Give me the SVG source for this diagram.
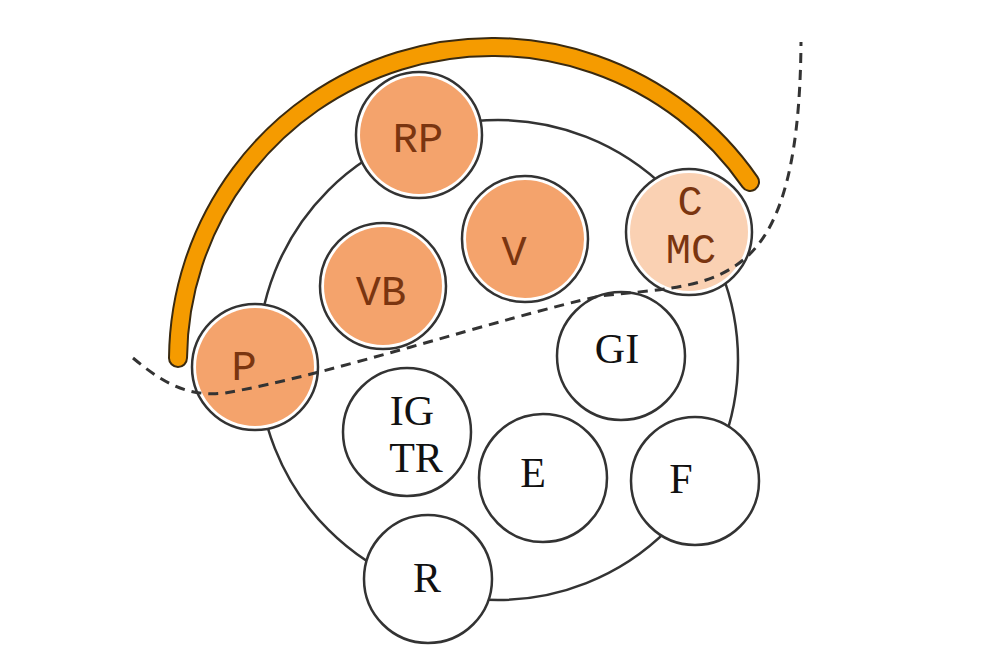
<svg xmlns="http://www.w3.org/2000/svg" width="1000" height="667" viewBox="0 0 1000 667">
<style>
.ring{fill:none;stroke:#333;stroke-width:2.5}
.w{fill:#fff;stroke:#333;stroke-width:2.5}
.o{fill:#F4A36C}
.lo{fill:#FAD1B3}
.tm{font-family:'Courier New','Liberation Mono',monospace;font-size:42px;fill:#7A3510;text-anchor:middle}
.ts{font-family:'Liberation Serif','Times New Roman',serif;font-size:42px;fill:#111;text-anchor:middle}
</style>
<rect width="1000" height="667" fill="#fff"/>
<circle id="outer-ring" class="ring" cx="498" cy="360" r="240"/>
<g id="RP"><circle class="w" cx="419" cy="135" r="63"/><circle class="o" cx="419" cy="135" r="59"/><text class="tm" x="418" y="152">RP</text></g>
<g id="V"><circle class="w" cx="525" cy="239" r="63"/><circle class="o" cx="525" cy="239" r="59"/><text class="tm" x="514" y="265">V</text></g>
<g id="CMC"><circle class="w" cx="689" cy="232" r="63"/><circle class="lo" cx="689" cy="232" r="59"/><text class="tm" x="690" y="215">C</text><text class="tm" x="691" y="263">MC</text></g>
<g id="VB"><circle class="w" cx="383" cy="286" r="63"/><circle class="o" cx="383" cy="286" r="59"/><text class="tm" x="381" y="305">VB</text></g>
<g id="P"><circle class="w" cx="255" cy="367" r="63"/><circle class="o" cx="255" cy="367" r="59"/><text class="tm" x="244" y="380">P</text></g>
<g id="GI"><circle class="w" cx="621" cy="356" r="64"/><text class="ts" x="617" y="363">GI</text></g>
<g id="IGTR"><circle class="w" cx="407" cy="432" r="64"/><text class="ts" x="412" y="425">IG</text><text class="ts" x="416" y="472">TR</text></g>
<g id="E"><circle class="w" cx="543" cy="478" r="64"/><text class="ts" x="533" y="487">E</text></g>
<g id="F"><circle class="w" cx="695" cy="481" r="64"/><text class="ts" x="681" y="493">F</text></g>
<g id="R"><circle class="w" cx="428" cy="579" r="64"/><text class="ts" x="427" y="592">R</text></g>
<g id="connectors">
<path d="M178,358 A314,314 0 0 1 750,182" fill="none" stroke="#3a2a10" stroke-width="20" stroke-linecap="round"/>
<path d="M178,358 A314,314 0 0 1 750,182" fill="none" stroke="#F59B00" stroke-width="16" stroke-linecap="round"/>
<path d="M133,358 C165,385 190,397 225,393 C330,375 500,318 600,296 C650,290 700,290 735,266 C775,240 800,180 801,42" fill="none" stroke="#333" stroke-width="3" stroke-dasharray="10,7"/>
</g>
</svg>
